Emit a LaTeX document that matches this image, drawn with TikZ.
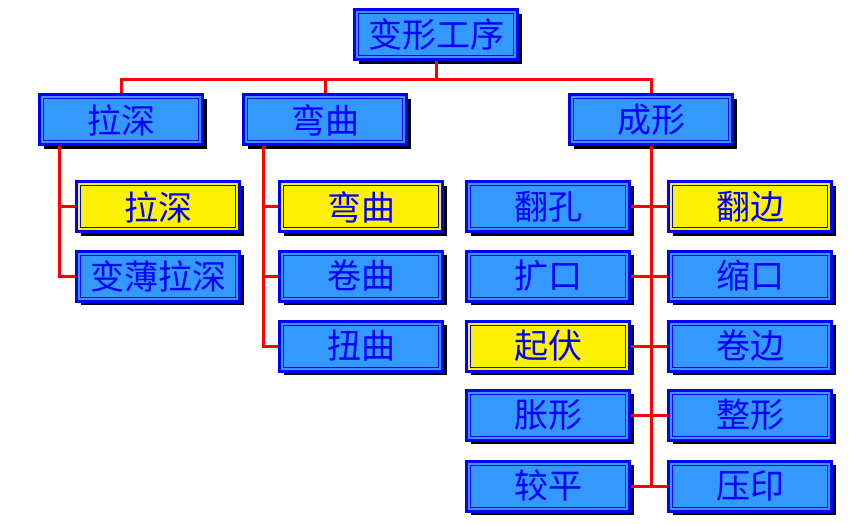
\documentclass[tikz,border=0pt]{standalone}
\usepackage{fontspec}
\newfontfamily\cjk{Noto Sans CJK SC}
\usetikzlibrary{shadows}
\definecolor{boxblue}{RGB}{51,153,255}
\definecolor{rimblue}{RGB}{0,0,255}
\tikzset{
  boite/.style={draw=rimblue, line width=3pt, fill=boxblue,
    minimum width=163pt, minimum height=50pt, inner sep=0pt,
    text=rimblue, font=\cjk\fontsize{34}{36}\selectfont,
    drop shadow={shadow xshift=4pt, shadow yshift=-4pt, fill=black, opacity=1},
    path picture={\draw[rimblue,line width=1pt]
      ([shift={(4pt,-4pt)}]path picture bounding box.north west) rectangle
      ([shift={(-4pt,4pt)}]path picture bounding box.south east);}},
  jaune/.style={boite, fill=yellow},
  lien/.style={draw=red, line width=3pt}
}
\begin{document}
\begin{tikzpicture}[x=1pt,y=-1pt]
    \useasboundingbox (0,0) rectangle (863,524);

    % Sommet
    \node[boite] (top) at (436,35) {变形工序};

    % Deuxieme niveau
    \node[boite] (la)    at (121,120) {拉深};
    \node[boite] (wan)   at (325,120) {弯曲};
    \node[boite] (cheng) at (651,120) {成形};

    % Sous 拉深
    \node[jaune] (la1) at (158,207) {拉深};
    \node[boite] (la2) at (158,276) {变薄拉深};

    % Sous 弯曲
    \node[jaune] (wan1) at (361,207) {弯曲};
    \node[boite] (wan2) at (361,276) {卷曲};
    \node[boite] (wan3) at (361,346) {扭曲};

    % Sous 成形, colonne gauche
    \node[boite] (fankong)   at (548,207) {翻孔};
    \node[boite] (kuokou)    at (548,276) {扩口};
    \node[jaune] (qifu)      at (548,346) {起伏};
    \node[boite] (zhangxing) at (548,415) {胀形};
    \node[boite] (jiaoping)  at (548,486) {较平};

    % Sous 成形, colonne droite
    \node[jaune] (fanbian)   at (750,207) {翻边};
    \node[boite] (suokou)    at (750,276) {缩口};
    \node[boite] (juanbian)  at (750,346) {卷边};
    \node[boite] (zhengxing) at (750,415) {整形};
    \node[boite] (yayin)     at (750,486) {压印};

    % Liaisons du haut
    \coordinate (bus) at (436,80);
    \draw[lien] (top.south) -- (bus);
    \draw[lien] (la.north) |- (bus) -| (cheng.north);
    \draw[lien] (wan.north) -- (wan.north |- bus);

    % Liaisons 拉深
    \coordinate (tla) at ([xshift=21pt]la.south west);
    \draw[lien] (tla) |- (la1.west);
    \draw[lien] (tla) |- (la2.west);

    % Liaisons 弯曲
    \coordinate (twan) at ([xshift=21pt]wan.south west);
    \draw[lien] (twan) |- (wan1.west);
    \draw[lien] (twan) |- (wan2.west);
    \draw[lien] (twan) |- (wan3.west);

    % Liaisons 成形
    \draw[lien] (cheng.south) -- (cheng.south |- yayin.west);
    \foreach \g/\d in {fankong/fanbian, kuokou/suokou, qifu/juanbian,
                       zhangxing/zhengxing, jiaoping/yayin}
        \draw[lien] (\g.east) -- (\d.west);
\end{tikzpicture}
\end{document}
